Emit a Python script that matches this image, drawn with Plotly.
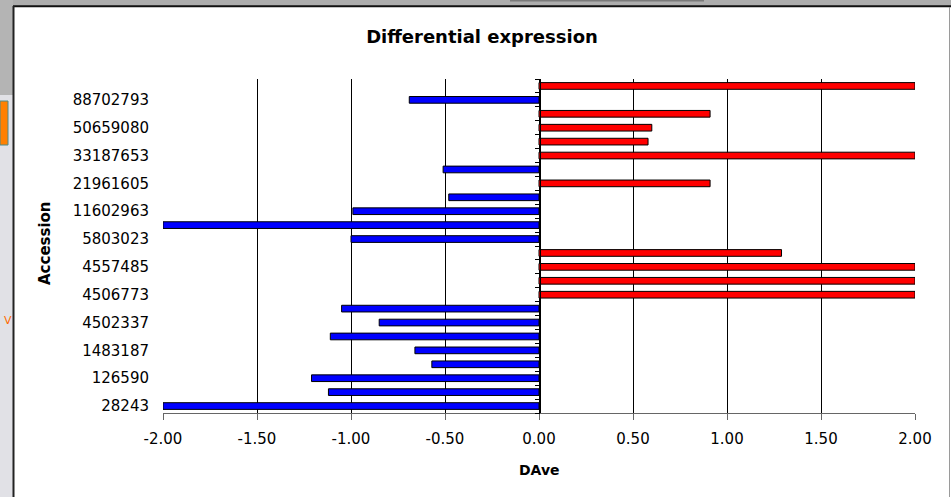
import plotly.graph_objects as go

# ---- data (bottom to top, as in the chart) ----
accession = ["28243", None, "126590", None, "1483187", None, "4502337", None,
             "4506773", None, "4557485", None, "5803023", None, "11602963", None,
             "21961605", None, "33187653", None, "50659080", None, "88702793", None]
dave = [-2.00, -1.12, -1.21, -0.57, -0.66, -1.11, -0.85, -1.05,
        2.00, 2.00, 2.00, 1.29, -1.00, -2.00, -0.99, -0.48,
        0.91, -0.51, 2.00, 0.58, 0.60, 0.91, -0.69, 2.00]
x_ticks = [-2.0, -1.5, -1.0, -0.5, 0.0, 0.5, 1.0, 1.5, 2.0]
x_tick_labels = ["-2.00", "-1.50", "-1.00", "-0.50", "0.00", "0.50", "1.00", "1.50", "2.00"]

rows = list(range(len(dave)))
label_pos = [i for i, a in enumerate(accession) if a]
label_txt = [a for a in accession if a]
neg = [v if v < 0 else None for v in dave]
pos = [v if v > 0 else None for v in dave]

W, H = 951, 497
L, R, T, B = 163, 36, 79, 84
PW, PH = W - L - R, H - T - B


def fx(px):
    return (px - L) / PW


def fy(py):
    return (H - B - py) / PH


FONT = "DejaVu Sans"
BAR_W = 0.48

fig = go.Figure()
fig.add_trace(go.Bar(
    x=neg, y=rows, orientation="h", width=BAR_W, yaxis="y",
    marker=dict(color="#0000ff", line=dict(color="#000000", width=1)),
    showlegend=False, hoverinfo="x+y",
))
fig.add_trace(go.Bar(
    x=pos, y=rows, orientation="h", width=BAR_W, yaxis="y2",
    marker=dict(color="#ff0000", line=dict(color="#000000", width=1)),
    showlegend=False, hoverinfo="x+y",
))

shapes = [
    # surrounding window decoration
    dict(type="rect", xref="paper", yref="paper", x0=fx(0), x1=fx(W), y0=fy(0), y1=fy(6),
         fillcolor="#adadad", line=dict(width=0), layer="below"),
    dict(type="rect", xref="paper", yref="paper", x0=fx(510), x1=fx(704), y0=fy(0), y1=fy(1.5),
         fillcolor="#7a7a7a", line=dict(width=0), layer="below"),
    dict(type="rect", xref="paper", yref="paper", x0=fx(0), x1=fx(13), y0=fy(0), y1=fy(95),
         fillcolor="#b4b4b4", line=dict(width=0), layer="below"),
    dict(type="rect", xref="paper", yref="paper", x0=fx(0), x1=fx(13), y0=fy(95), y1=fy(H),
         fillcolor="#e1e1e6", line=dict(width=0), layer="below"),
    dict(type="rect", xref="paper", yref="paper", x0=fx(0), x1=fx(8), y0=fy(101), y1=fy(145),
         fillcolor="#ff8000", line=dict(width=1, color="#4a8a8a"), layer="below"),
    dict(type="line", xref="paper", yref="paper", x0=fx(13), x1=fx(W), y0=fy(6.3), y1=fy(6.3),
         line=dict(width=2, color="#111111")),
    dict(type="line", xref="paper", yref="paper", x0=fx(13.5), x1=fx(13.5), y0=fy(6), y1=fy(H),
         line=dict(width=2, color="#222222")),
    dict(type="line", xref="paper", yref="paper", x0=fx(949.5), x1=fx(949.5), y0=fy(7), y1=fy(H),
         line=dict(width=1, color="#9a9a9a")),
]

annotations = [
    dict(text="<b>Accession</b>", xref="paper", yref="paper", x=fx(45), y=fy(243),
         textangle=-90, showarrow=False, xanchor="center", yanchor="middle",
         font=dict(family=FONT, size=15, color="#000000")),
    dict(text="<b>DAve</b>", xref="paper", yref="paper", x=fx(539), y=fy(470),
         showarrow=False, xanchor="center", yanchor="middle",
         font=dict(family=FONT, size=14, color="#000000")),
    dict(text="V", xref="paper", yref="paper", x=fx(8), y=fy(320),
         showarrow=False, xanchor="center", yanchor="middle",
         font=dict(family=FONT, size=11, color="#ff6a00")),
]

fig.update_layout(
    width=W, height=H,
    margin=dict(l=L, r=R, t=T, b=B, pad=0),
    paper_bgcolor="#ffffff", plot_bgcolor="#ffffff",
    font=dict(family=FONT, size=15, color="#000000"),
    title=dict(text="<b>Differential expression</b>", x=482 / W, xanchor="center",
               y=1 - 37 / H, yanchor="middle", xref="container", yref="container",
               font=dict(family=FONT, size=18, color="#000000")),
    xaxis=dict(range=[-2, 2], tickvals=x_ticks, ticktext=x_tick_labels,
               showgrid=True, gridcolor="#000000", gridwidth=1,
               zeroline=False, showline=True, linecolor="#666666", linewidth=1,
               ticks="outside", ticklen=6, tickcolor="#666666",
               ticklabelstandoff=6, fixedrange=True),
    yaxis=dict(range=[-0.5, len(dave) - 0.5], tickvals=label_pos, ticktext=label_txt,
               showgrid=False, zeroline=False, showline=False, ticks="",
               ticklabelstandoff=13, fixedrange=True),
    yaxis2=dict(overlaying="y", anchor="free", position=fx(539.5), side="left",
                range=[-0.5, len(dave) - 0.5],
                tickvals=[i - 0.5 for i in range(len(dave) + 1)],
                ticks="outside", ticklen=5, tickcolor="#000000",
                showticklabels=False, showgrid=False, zeroline=False,
                showline=True, linecolor="#000000", linewidth=1, fixedrange=True),
    shapes=shapes, annotations=annotations,
    barmode="overlay", showlegend=False,
)

fig.write_html("out.html")
